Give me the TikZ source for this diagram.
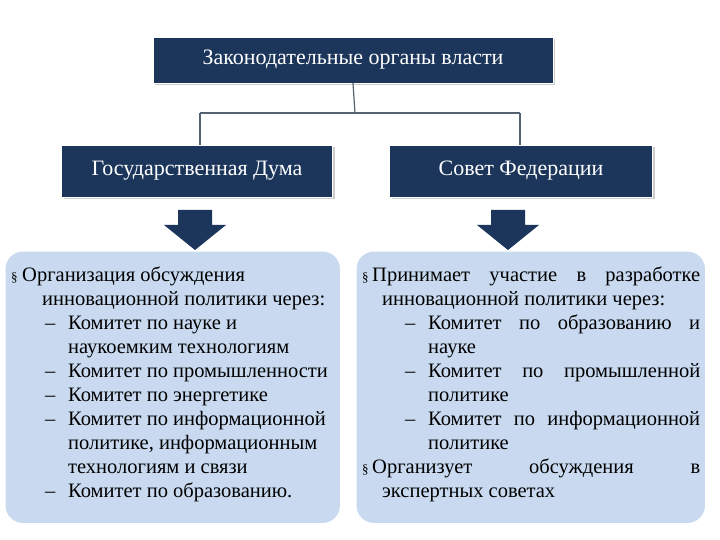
\documentclass[tikz,border=0pt]{standalone}
\usepackage{fontspec}
\setmainfont{Liberation Serif}
\usetikzlibrary{shadows}
\definecolor{navy}{HTML}{1B355B}
\definecolor{pale}{HTML}{C9DAF0}
\tikzset{hdr/.style={draw=white,fill=navy,text=white,font=\fontsize{22}{26}\selectfont,drop shadow={shadow xshift=2pt,shadow yshift=-2pt,opacity=0.4}},
 panel/.style={draw=white,line width=1.5pt,fill=pale,rounded corners=18pt},
 ln/.style={draw=navy!40!gray,line width=1.2pt},
 txt/.style={anchor=base west,inner sep=0,font=\fontsize{20.5}{24}\selectfont},
 arr/.style={fill=navy}}
\begin{document}
\begin{tikzpicture}[x=1pt,y=-1pt]
\useasboundingbox (0,0) rectangle (720,540);
\node[hdr,minimum width=400,minimum height=46] (top) at (353,60) {Законодательные органы власти};
\node[hdr,minimum width=271,minimum height=52] (gd) at (197,171) {Государственная Дума};
\node[hdr,minimum width=263,minimum height=52] (sf) at (521,171) {Совет Федерации};
\coordinate (j) at (355,113);
\coordinate (jl) at (200,113);
\coordinate (jr) at (520,113);
\draw[ln] (top.south) -- (j);
\draw[ln] (jl) -- (jr);
\draw[ln] (jl) -- (gd.north -| jl);
\draw[ln] (jr) -- (sf.north -| jr);
\fill[arr] (178,210) -- (212,210) -- (212,225) -- (226,225) -- (195,250) -- (164,225) -- (178,225) -- cycle;
\fill[arr] (491,210) -- (525,210) -- (525,225) -- (539,225) -- (508,250) -- (477,225) -- (491,225) -- cycle;
\node[panel,minimum width=336,minimum height=273,anchor=north west] (pl) at (4,250) {};
\node[panel,minimum width=350,minimum height=273,anchor=north west] (pr) at (355,250) {};
% left text
\foreach \x/\y/\t in {
 11/281/{\fontsize{13}{14}\selectfont§}, 22/281/{Организация обсуждения},
 42/305/{инновационной политики через:},
 45/329/{–}, 68/329/{Комитет по науке и},
 68/353/{наукоемким технологиям},
 45/377/{–}, 68/377/{Комитет по промышленности},
 45/401/{–}, 68/401/{Комитет по энергетике},
 45/425/{–}, 68/425/{Комитет по информационной},
 68/449/{политике, информационным},
 68/473/{технологиям и связи},
 45/497/{–}, 68/497/{Комитет по образованию.}}
 \node[txt] at (\x,\y) {\t};
% right text
\node[txt] at (362,281) {\fontsize{13}{14}\selectfont§};
\node[txt] at (372,281) {\makebox[328pt][s]{Принимает участие в разработке}};
\node[txt] at (382,305) {инновационной политики через:};
\node[txt] at (405,329) {–};
\node[txt] at (428,329) {\makebox[272pt][s]{Комитет по образованию и}};
\node[txt] at (428,353) {науке};
\node[txt] at (405,377) {–};
\node[txt] at (428,377) {\makebox[272pt][s]{Комитет по промышленной}};
\node[txt] at (428,401) {политике};
\node[txt] at (405,425) {–};
\node[txt] at (428,425) {\makebox[272pt][s]{Комитет по информационной}};
\node[txt] at (428,449) {политике};
\node[txt] at (362,473) {\fontsize{13}{14}\selectfont§};
\node[txt] at (372,473) {\makebox[328pt][s]{Организует обсуждения в}};
\node[txt] at (382,497) {экспертных советах};
\end{tikzpicture}
\end{document}
